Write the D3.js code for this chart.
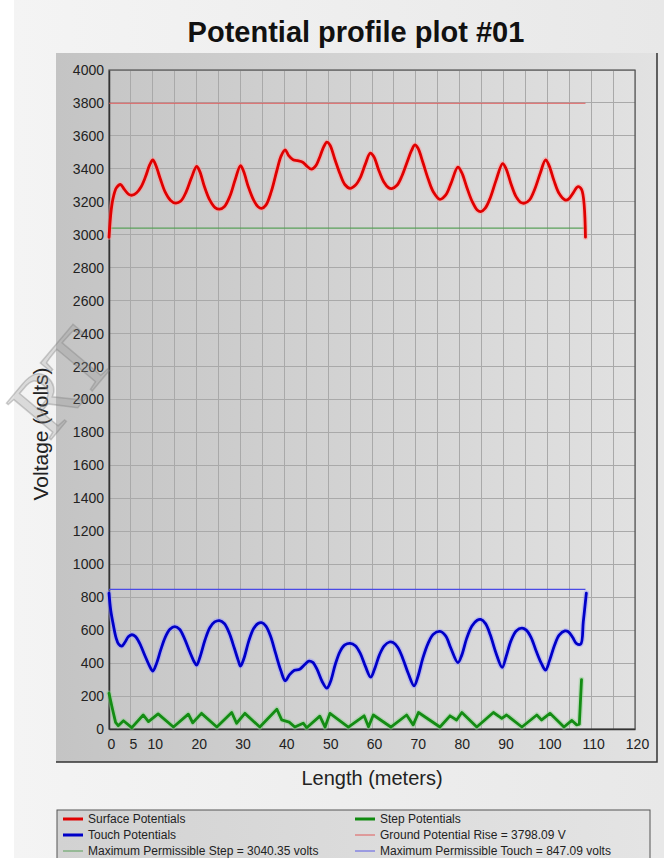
<!DOCTYPE html>
<html>
<head>
<meta charset="utf-8">
<script src="https://cdn.jsdelivr.net/npm/d3@7"></script>
<style>
  html, body { margin: 0; padding: 0; background: #ffffff; }
  svg { display: block; font-family: "Liberation Sans", Arial, sans-serif; }
</style>
</head>
<body>
<svg id="chart" width="664" height="858"></svg>
<script>
// ---- data (length in meters, potentials in volts) ----
const surfaceX = [0,0.5,1.0,1.7,2.6,3.5,4.5,5.3,6.3,7.3,8.3,9.3,10.0,10.7,11.7,12.8,14.0,15.2,16.4,17.6,18.8,20.0,20.7,21.8,23.0,24.2,25.2,26.3,27.6,28.8,30.0,30.7,31.8,33.0,34.0,34.8,35.8,37.0,38.3,39.3,40.2,41.0,42.0,43.0,44.2,45.2,46.2,47.2,48.2,49.0,49.7,50.4,51.5,52.7,53.8,55.0,56.2,57.3,58.5,59.6,60.4,61.5,62.7,63.8,64.5,65.7,66.8,68.0,69.0,69.8,70.5,71.6,72.8,74.0,75.5,76.8,78.0,79.6,80.5,81.6,82.8,84.0,84.8,85.8,87.0,88.3,89.8,90.6,91.7,92.9,94.0,94.8,95.9,97.1,98.4,99.6,100.4,101.5,102.7,104.0,104.8,105.8,107.0,107.8,108.7];
const surfaceV = [2985,3150,3230,3285,3305,3275,3245,3240,3255,3290,3350,3425,3455,3420,3340,3260,3210,3192,3205,3260,3345,3415,3385,3290,3210,3165,3155,3170,3235,3335,3420,3385,3290,3210,3170,3160,3180,3260,3390,3480,3515,3480,3455,3450,3440,3415,3398,3420,3480,3535,3562,3545,3460,3370,3305,3282,3300,3345,3430,3495,3475,3395,3320,3285,3280,3300,3355,3440,3510,3545,3525,3440,3340,3260,3215,3240,3310,3410,3375,3290,3205,3150,3140,3160,3225,3330,3432,3400,3310,3230,3195,3192,3210,3275,3375,3455,3420,3330,3250,3212,3215,3250,3292,3275,2985];

const touchX = [0,0.4,1.0,1.6,2.2,2.9,3.6,4.4,5.2,6.0,7.0,8.2,9.2,10.0,10.8,11.8,12.8,13.9,15.0,16.1,17.2,18.4,19.4,20.0,20.8,21.9,23.0,24.1,25.2,26.3,27.4,28.6,29.5,30.0,30.8,31.9,33.0,34.0,34.8,35.8,36.9,38.0,39.2,40.2,41.2,42.3,43.5,44.6,45.6,46.5,47.5,48.6,49.7,50.5,51.6,52.7,53.8,55.0,56.2,57.3,58.5,59.7,60.6,61.7,62.8,64.0,64.8,65.9,67.0,68.3,69.6,70.5,71.6,72.8,74.0,75.5,76.8,78.0,79.6,80.5,81.6,82.8,84.0,84.8,85.9,87.0,88.3,89.7,90.6,91.7,92.9,94.2,95.2,96.3,97.5,98.7,99.6,100.5,101.6,102.7,104.0,104.8,105.8,106.6,107.6,108.2,108.9];
const touchV = [825,720,630,555,515,503,525,560,572,562,520,445,385,352,395,480,555,605,622,605,550,470,410,388,440,540,615,650,658,640,585,490,415,382,430,535,610,640,645,625,560,460,355,293,330,356,363,390,412,405,360,290,248,285,390,470,510,520,505,460,380,315,365,450,505,528,525,495,430,335,262,320,430,520,575,592,565,490,403,450,550,625,660,665,640,570,460,374,440,535,595,612,600,555,470,395,358,415,505,570,595,590,555,520,515,650,825];

const stepX = [0,0.8,1.5,2.1,3.3,5.2,7.8,9.0,11.2,14.7,18.1,19.1,21.1,24.6,28.0,29.1,31.0,34.4,38.3,39.4,41.1,42.4,44.3,45.1,48.1,49.3,50.4,54.6,58.2,59.2,60.3,64.3,67.9,69.4,70.6,75.5,77.8,79.3,80.5,83.9,87.7,89.6,90.7,94.2,97.6,98.7,100.6,103.8,105.6,106.7,107.3,107.8];
const stepV = [217,120,40,20,50,8,85,45,92,12,90,38,95,12,100,35,95,12,120,55,42,12,35,8,78,12,95,12,80,14,85,12,85,25,100,12,80,55,100,12,100,65,85,12,85,55,95,12,52,25,30,300];

// reference limits
const groundPotentialRise = 3798.09;
const maxPermissibleStep = 3040.35;
const maxPermissibleTouch = 847.09;
const limitExtent = [0, 108.7];

// axes
const xTickValues = [0,5,10,20,30,40,50,60,70,80,90,100,110,120];
const xGridValues = d3.range(0, 121, 5);
const yTickValues = d3.range(0, 4001, 200);

const titleText = "Potential profile plot #01";
const xTitle = "Length (meters)";
const yTitle = "Voltage (volts)";

const legendItems = [
  { label: "Surface Potentials", color: "#e00000", width: 3, col: 0, row: 0 },
  { label: "Touch Potentials", color: "#0000c8", width: 3, col: 0, row: 1 },
  { label: "Maximum Permissible Step = 3040.35 volts", color: "#5aa05a", width: 1, col: 0, row: 2 },
  { label: "Step Potentials", color: "#108a10", width: 3, col: 1, row: 0 },
  { label: "Ground Potential Rise = 3798.09 V", color: "#e05a5a", width: 1, col: 1, row: 1 },
  { label: "Maximum Permissible Touch = 847.09 volts", color: "#5a5ae6", width: 1, col: 1, row: 2 }
];

// ---- drawing ----
const svg = d3.select("#chart");
const W = 664, H = 858;
const plot = { left: 109, right: 635, top: 70, bottom: 729 };

const x = d3.scaleLinear().domain([0, 120]).range([plot.left, plot.right]);
const y = d3.scaleLinear().domain([0, 4000]).range([plot.bottom, plot.top]);

const defs = svg.append("defs");
const bgGrad = defs.append("linearGradient").attr("id", "bgGrad").attr("x1", 0).attr("x2", 1).attr("y1", 0).attr("y2", 0);
bgGrad.append("stop").attr("offset", 0).attr("stop-color", "#f4f4f4");
bgGrad.append("stop").attr("offset", 1).attr("stop-color", "#e8e8e8");
const panelGrad = defs.append("linearGradient").attr("id", "panelGrad").attr("x1", 0).attr("x2", 1).attr("y1", 0).attr("y2", 0);
panelGrad.append("stop").attr("offset", 0).attr("stop-color", "#c4c4c4");
panelGrad.append("stop").attr("offset", 1).attr("stop-color", "#e2e2e2");
const legendGrad = defs.append("linearGradient").attr("id", "legendGrad").attr("x1", 0).attr("x2", 1).attr("y1", 0).attr("y2", 0);
legendGrad.append("stop").attr("offset", 0).attr("stop-color", "#d2d2d2");
legendGrad.append("stop").attr("offset", 1).attr("stop-color", "#e4e4e4");

// outer background
svg.append("rect").attr("x", 14).attr("y", 0).attr("width", W - 14).attr("height", H).attr("fill", "url(#bgGrad)");

// chart panel with shadowed right/bottom edge
svg.append("rect").attr("x", 56).attr("y", 53).attr("width", 601).attr("height", 709).attr("fill", "url(#panelGrad)");
svg.append("path").attr("d", "M657,53 V762 H56").attr("fill", "none").attr("stroke", "#333").attr("stroke-width", 1.5);

// title
svg.append("text").attr("x", 356).attr("y", 42).attr("text-anchor", "middle")
  .attr("font-size", 29).attr("font-weight", "bold").attr("fill", "#111").text(titleText);

// grid
const gGrid = svg.append("g");
gGrid.selectAll("line.vx").data(xGridValues).join("line")
  .attr("x1", d => x(d)).attr("x2", d => x(d)).attr("y1", plot.top).attr("y2", plot.bottom)
  .attr("stroke", "#a9a9a9").attr("stroke-width", 1).attr("shape-rendering", "crispEdges");
gGrid.selectAll("line.hy").data(yTickValues).join("line")
  .attr("x1", plot.left).attr("x2", plot.right).attr("y1", d => y(d)).attr("y2", d => y(d))
  .attr("stroke", "#a9a9a9").attr("stroke-width", 1).attr("shape-rendering", "crispEdges");

// frame
svg.append("rect").attr("x", plot.left).attr("y", plot.top)
  .attr("width", plot.right - plot.left).attr("height", plot.bottom - plot.top)
  .attr("fill", "none").attr("stroke", "#555").attr("stroke-width", 1.2);

// axes
const yAxis = svg.append("g").attr("transform", `translate(${plot.left},0)`)
  .call(d3.axisLeft(y).tickValues(yTickValues).tickFormat(d3.format("d")).tickSize(0).tickPadding(5));
yAxis.select(".domain").attr("stroke", "#333").attr("stroke-width", 1.5);
yAxis.selectAll("text").attr("font-size", 14).attr("fill", "#222").attr("font-family", "Liberation Sans, Arial, sans-serif");

const xAxis = svg.append("g").attr("transform", `translate(0,${plot.bottom})`)
  .call(d3.axisBottom(x).tickValues(xTickValues).tickFormat(d3.format("d")).tickSize(0).tickPadding(10));
xAxis.select(".domain").attr("stroke", "#333").attr("stroke-width", 1.5);
xAxis.selectAll("text").attr("font-size", 14).attr("fill", "#222").attr("dx", 2).attr("font-family", "Liberation Sans, Arial, sans-serif");

// axis titles
svg.append("text").attr("x", 372).attr("y", 785).attr("text-anchor", "middle")
  .attr("font-size", 20).attr("fill", "#222").text(xTitle);
svg.append("text").attr("transform", "translate(48,434) rotate(-90)").attr("text-anchor", "middle")
  .attr("font-size", 21).attr("fill", "#222").text(yTitle);

// limit lines
const limits = [
  { v: groundPotentialRise, color: "#e05a5a" },
  { v: maxPermissibleStep, color: "#5aa05a" },
  { v: maxPermissibleTouch, color: "#4a4ae6" }
];
svg.append("g").selectAll("line").data(limits).join("line")
  .attr("x1", x(limitExtent[0])).attr("x2", x(limitExtent[1]))
  .attr("y1", d => y(d.v)).attr("y2", d => y(d.v))
  .attr("stroke", d => d.color).attr("stroke-width", 1.2);

// potential curves
const smooth = d3.line().x(d => x(d[0])).y(d => y(d[1])).curve(d3.curveCatmullRom.alpha(0.5));
const straight = d3.line().x(d => x(d[0])).y(d => y(d[1])).curve(d3.curveLinear);
const series = [
  { xs: surfaceX, vs: surfaceV, color: "#e00000", halo: "#ff9a9a", gen: smooth },
  { xs: touchX, vs: touchV, color: "#0000c8", halo: "#9a9aff", gen: smooth },
  { xs: stepX, vs: stepV, color: "#148c14", halo: "#8fd08f", gen: straight }
];
const gLines = svg.append("g").attr("fill", "none").attr("stroke-linejoin", "round").attr("stroke-linecap", "round");
series.forEach(s => {
  const pts = s.xs.map((xv, i) => [xv, s.vs[i]]);
  gLines.append("path").attr("d", s.gen(pts)).attr("stroke", s.halo).attr("stroke-width", 5.5).attr("stroke-opacity", 0.45);
  gLines.append("path").attr("d", s.gen(pts)).attr("stroke", s.color).attr("stroke-width", 2.8);
});

// legend
const lg = svg.append("g");
lg.append("rect").attr("x", 57).attr("y", 810).attr("width", 593).attr("height", 60)
  .attr("fill", "url(#legendGrad)").attr("stroke", "#555").attr("stroke-width", 1);
const colX = [63, 355], rowY = [819, 835, 851];
const item = lg.selectAll("g.item").data(legendItems).join("g")
  .attr("transform", d => `translate(${colX[d.col]},${rowY[d.row]})`);
item.append("line").attr("x1", 0).attr("x2", 20).attr("y1", 0).attr("y2", 0)
  .attr("stroke", d => d.color).attr("stroke-width", d => d.width);
item.append("text").attr("x", 25).attr("y", 4).attr("font-size", 12).attr("fill", "#222").text(d => d.label);

// faint publisher watermark
svg.append("text").attr("transform", "translate(118,360) rotate(-50)").attr("text-anchor", "end")
  .attr("font-family", "Liberation Serif, serif").attr("font-size", 88)
  .attr("fill", "#8a8a8a").attr("fill-opacity", 0.25).attr("stroke", "#7a7a7a").attr("stroke-opacity", 0.35).attr("stroke-width", 1.5)
  .text("RT");
</script>
</body>
</html>
